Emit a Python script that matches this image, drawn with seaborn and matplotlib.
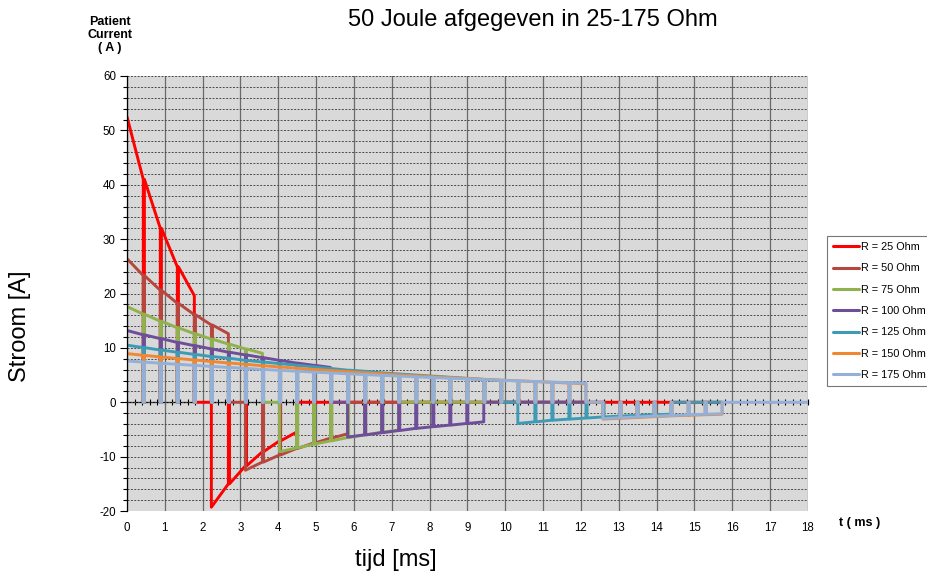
import pandas as pd
import matplotlib
matplotlib.use('Agg')
import matplotlib.pyplot as plt
import seaborn as sns
from matplotlib.ticker import MultipleLocator
from matplotlib.lines import Line2D

# moments (ms) where the pulse train is briefly switched off
gap_t = [0.43, 0.88, 1.33, 1.78, 2.23, 2.68, 3.13, 3.58, 4.03, 4.48,
         4.93, 5.38, 5.83, 6.28, 6.73, 7.18, 7.63, 8.08, 8.53, 8.98,
         9.43, 9.88, 10.33, 10.78, 11.23, 11.68, 12.13, 12.58, 13.03, 13.48,
         13.93, 14.38, 14.83, 15.28, 15.73]
gap_len = 0.03

labels = ['R = 25 Ohm', 'R = 50 Ohm', 'R = 75 Ohm', 'R = 100 Ohm',
          'R = 125 Ohm', 'R = 150 Ohm', 'R = 175 Ohm']
colors = ['#FF0000', '#B5473F', '#8FB24E', '#6E4E98', '#3E9BB5', '#F08732', '#93B0D8']

# current (A) at the start and at every interruption, positive phase then negative phase
r25_pos = [52.5, 41.0, 32.0, 24.9, 19.6]
r25_neg = [-19.3, -15.0, -11.7, -9.1, -7.1, -5.5]
r50_pos = [26.4, 23.3, 20.6, 18.2, 16.1, 14.2, 12.6]
r50_neg = [-12.5, -11.0, -9.7, -8.5, -7.5, -6.6, -5.8]
r75_pos = [17.6, 16.2, 14.9, 13.7, 12.6, 11.6, 10.7, 9.8, 9.0]
r75_neg = [-9.1, -8.4, -7.7, -7.1, -6.5, -6.0, -5.5, -5.1]
r100_pos = [13.2, 12.4, 11.7, 11.0, 10.4, 9.8, 9.2, 8.7, 8.2, 7.7, 7.2, 6.8, 6.4]
r100_neg = [-6.4, -6.0, -5.6, -5.2, -4.8, -4.5, -4.2, -3.9, -3.6]
r125_pos = [10.5, 10.05, 9.6, 9.2, 8.8, 8.4, 8.1, 7.7, 7.4, 7.1, 6.8, 6.5, 6.2, 5.9,
            5.7, 5.4, 5.2, 5.0, 4.8, 4.6, 4.4, 4.2, 4.0]
r125_neg = [-3.9, -3.6, -3.3, -3.1, -2.9, -2.7, -2.55, -2.4, -2.3, -2.2]
r150_pos = [8.95, 8.63, 8.33, 8.04, 7.76, 7.48, 7.22, 6.97, 6.72, 6.49, 6.26, 6.04, 5.83, 5.62,
            5.42, 5.23, 5.05, 4.87, 4.70, 4.54, 4.38, 4.22, 4.07, 3.93, 3.79, 3.66, 3.53, 3.40]
r150_neg = [-3.1, -2.95, -2.8, -2.65, -2.5, -2.4, -2.3, -2.2]
r175_pos = [7.6, 7.38, 7.18, 6.97, 6.78, 6.58, 6.40, 6.22, 6.04, 5.87, 5.71, 5.54, 5.39, 5.23,
            5.09, 4.94, 4.80, 4.67, 4.53, 4.41, 4.28, 4.16, 4.04, 3.93, 3.82, 3.71, 3.60, 3.50]
r175_neg = [-3.0, -2.85, -2.7, -2.55, -2.45, -2.3, -2.2, -2.1]
t_end = [15.73, 12.13, 12.13, 12.13, 15.73, 15.73, 18.0]

pos_list = [r25_pos, r50_pos, r75_pos, r100_pos, r125_pos, r150_pos, r175_pos]
neg_list = [r25_neg, r50_neg, r75_neg, r100_neg, r125_neg, r150_neg, r175_neg]


def trace(pos, neg, end):
    g = [0.0] + gap_t
    t, i = [g[0]], [pos[0]]
    for k in range(1, len(pos)):
        t += [g[k], g[k]]
        i += [pos[k], 0]
        if k < len(pos) - 1:
            t += [g[k] + gap_len, g[k] + gap_len]
            i += [0, pos[k]]
    s = len(pos)
    t += [g[s], g[s]]
    i += [0, neg[0]]
    for j in range(1, len(neg)):
        k = s + j
        t += [g[k], g[k]]
        i += [neg[j], 0]
        if j < len(neg) - 1:
            t += [g[k] + gap_len, g[k] + gap_len]
            i += [0, neg[j]]
    t.append(end)
    i.append(0)
    return t, i


frames = []
for lab, p, n, e in zip(labels, pos_list, neg_list, t_end):
    t, i = trace(p, n, e)
    frames.append(pd.DataFrame({'t': t, 'I': i, 'R': lab}))
df = pd.concat(frames, ignore_index=True)

sns.set_style('white')
plt.rcParams['font.family'] = ['Liberation Sans', 'DejaVu Sans']
plt.rcParams['axes.unicode_minus'] = False
plt.rcParams['text.color'] = 'black'
plt.rcParams['xtick.color'] = 'black'
plt.rcParams['ytick.color'] = 'black'

fig = plt.figure(figsize=(9.28, 5.76), dpi=100)
ax = fig.add_axes([127 / 928, 1 - 511 / 576, 681 / 928, 435 / 576])
ax.set_facecolor('#D9D9D9')

sns.lineplot(data=df, x='t', y='I', hue='R', hue_order=labels, palette=colors,
             sort=False, estimator=None, units='R', linewidth=2.1, legend=False, ax=ax)

ax.set_xlim(0, 18)
ax.set_ylim(-20, 60)
ax.xaxis.set_major_locator(MultipleLocator(1))
ax.yaxis.set_major_locator(MultipleLocator(10))
ax.yaxis.set_minor_locator(MultipleLocator(2))
ax.set_axisbelow(True)
ax.grid(which='major', axis='x', color='#6a6a6a', linewidth=0.9, linestyle='-')
ax.grid(which='both', axis='y', color='#4a4a4a', linewidth=0.7, linestyle=(0, (2.0, 1.5)))
ax.tick_params(axis='x', which='both', length=0, labelsize=8.3, pad=8)
ax.tick_params(axis='y', which='major', length=5, width=0.8, labelsize=8.3, pad=3, direction='out', left=True)
ax.tick_params(axis='y', which='minor', length=3, width=0.8, direction='out', left=True)
for side in ['top', 'right', 'bottom']:
    ax.spines[side].set_visible(False)
ax.spines['left'].set_color('black')
ax.spines['left'].set_linewidth(0.9)
ax.set_xlabel('')
ax.set_ylabel('')

# the time axis itself crosses at 0 A
zax = ax.secondary_xaxis(0.25)
zax.xaxis.set_major_locator(MultipleLocator(1))
zax.xaxis.set_minor_locator(MultipleLocator(0.2))
zax.tick_params(which='both', direction='inout', length=5, width=0.8, labelbottom=False, colors='black')
zax.spines['bottom'].set_color('black')
zax.spines['bottom'].set_linewidth(0.9)

fig.text(533 / 928, 1 - 20 / 576, '50 Joule afgegeven in 25-175 Ohm', ha='center', va='center', fontsize=17)
fig.text(20 / 928, 1 - 326 / 576, 'Stroom [A]', ha='center', va='center', rotation=90, fontsize=17)
fig.text(396 / 928, 1 - 560 / 576, 'tijd [ms]', ha='center', va='center', fontsize=17)
fig.text(110 / 928, 1 - 16 / 576, 'Patient\nCurrent\n( A )', ha='center', va='top', fontsize=9,
         fontweight='bold', linespacing=1.1)
fig.text(860 / 928, 1 - 523 / 576, 't ( ms )', ha='center', va='center', fontsize=9, fontweight='bold')

handles = [Line2D([], [], color=c, linewidth=2.2) for c in colors]
leg = fig.legend(handles, labels, loc='upper left', bbox_to_anchor=(827 / 928, 1 - 236 / 576),
                 fontsize=7.8, handlelength=2.4, handletextpad=0.2, labelspacing=1.05,
                 borderpad=0.55, borderaxespad=0, frameon=True, fancybox=False)
leg.get_frame().set_edgecolor('#555555')
leg.get_frame().set_linewidth(0.8)

fig.savefig('out.png', dpi=100)
